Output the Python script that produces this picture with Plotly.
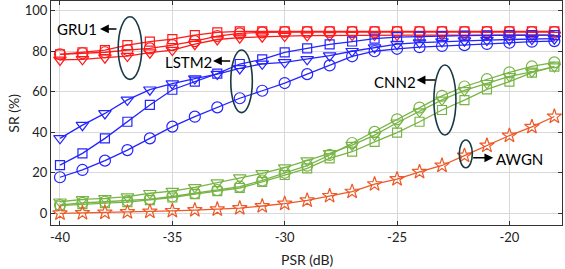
import plotly.graph_objects as go

psr = [-40, -39, -38, -37, -36, -35, -34, -33, -32, -31, -30, -29, -28, -27, -26, -25, -24, -23, -22, -21, -20, -19, -18]

gru1_sq = [78.5, 79.5, 80.6, 83.0, 84.7, 86.0, 88.0, 89.3, 89.8, 89.8, 89.8, 89.8, 89.8, 89.8, 89.8, 89.8, 89.8, 89.8, 89.8, 89.8, 89.8, 89.8, 89.8]
gru1_ci = [78.5, 79.0, 79.5, 80.6, 81.4, 83.0, 85.0, 87.5, 88.8, 89.3, 89.5, 89.5, 89.5, 89.5, 89.5, 89.5, 89.5, 89.5, 89.5, 89.5, 89.5, 89.5, 89.5]
gru1_tr = [75.7, 76.0, 76.8, 77.6, 79.3, 80.6, 83.5, 85.8, 86.7, 87.2, 87.5, 87.7, 87.8, 88.0, 88.0, 88.0, 88.0, 88.0, 88.0, 88.0, 88.0, 88.0, 88.0]

lstm2_sq = [23.8, 29.6, 37.0, 45.2, 53.5, 61.0, 65.0, 69.0, 73.7, 76.0, 79.4, 81.4, 83.4, 84.8, 86.2, 87.0, 87.3, 87.5, 87.7, 87.8, 88.0, 88.0, 88.0]
lstm2_tr = [37.0, 43.5, 49.3, 56.0, 61.0, 64.0, 66.5, 68.7, 71.5, 73.8, 74.5, 76.0, 77.8, 80.0, 81.8, 83.5, 84.3, 84.8, 85.2, 85.5, 85.8, 86.0, 86.2]
lstm2_ci = [17.8, 21.4, 26.0, 31.2, 37.0, 42.8, 47.7, 52.3, 56.8, 60.5, 64.3, 68.7, 73.0, 77.5, 80.0, 81.2, 82.0, 82.6, 83.0, 83.6, 84.2, 84.7, 85.0]

cnn2_ci = [4.1, 5.2, 5.7, 6.2, 7.0, 8.3, 10.0, 11.5, 13.2, 16.2, 20.0, 23.5, 28.8, 34.7, 40.2, 46.4, 52.2, 58.0, 62.6, 66.2, 69.6, 72.5, 74.5]
cnn2_tr = [5.7, 6.9, 7.4, 8.2, 9.9, 11.0, 12.8, 15.1, 17.6, 19.7, 22.6, 26.0, 29.6, 33.7, 38.6, 44.7, 50.2, 56.0, 60.7, 64.2, 67.6, 69.8, 72.4]
cnn2_sq = [3.8, 4.5, 5.0, 5.5, 6.5, 7.8, 9.5, 11.0, 12.5, 15.5, 18.9, 22.2, 27.1, 30.4, 35.3, 39.8, 45.2, 51.0, 55.9, 61.2, 65.0, 69.4, 72.4]

awgn = [0.0, 0.2, 0.4, 0.6, 0.9, 1.2, 1.6, 2.0, 2.6, 3.6, 4.8, 6.4, 8.6, 10.7, 14.4, 16.9, 20.5, 23.6, 28.5, 33.5, 38.4, 42.7, 47.8]

x_ticks = [-40, -35, -30, -25, -20]
y_ticks = [0, 20, 40, 60, 80, 100]

RED = "#ff1a1a"
BLUE = "#2424ff"
GREEN = "#78b445"
ORANGE = "#ec5a28"
RING = "#183a46"
FONT = "Lato"

series = [
    (gru1_sq, RED, "square-open", 9), (gru1_ci, RED, "circle-open", 11), (gru1_tr, RED, "triangle-down-open", 11),
    (lstm2_sq, BLUE, "square-open", 9), (lstm2_tr, BLUE, "triangle-down-open", 11), (lstm2_ci, BLUE, "circle-open", 11),
    (cnn2_ci, GREEN, "circle-open", 11), (cnn2_tr, GREEN, "triangle-down-open", 11), (cnn2_sq, GREEN, "square-open", 9),
    (awgn, ORANGE, "star-open", 11),
]

fig = go.Figure()
for ys, col, sym, sz in series:
    fig.add_trace(go.Scatter(
        x=psr, y=ys, mode="lines+markers",
        line=dict(color=col, width=1.3),
        marker=dict(symbol=sym, size=sz, color=col, line=dict(color=col, width=1.2)),
        showlegend=False, cliponaxis=True,
    ))

# Ellipses (data coords)
ellipses = [
    (-37.41, -36.36, 66.1, 97.0),
    (-32.40, -31.44, 49.7, 80.6),
    (-23.36, -22.38, 38.65, 73.2),
    (-22.23, -21.65, 22.5, 36.2),
]
for x0, x1, y0, y1 in ellipses:
    fig.add_shape(type="circle", xref="x", yref="y", x0=x0, x1=x1, y0=y0, y1=y1,
                  line=dict(color=RING, width=1.6))

# Arrows: (head_x, head_y, tail_x, tail_y)
arrows = [
    (-38.22, 91.0, -37.42, 91.0),
    (-33.19, 75.2, -32.36, 75.2),
    (-24.13, 65.8, -23.24, 65.8),
    (-20.72, 27.4, -21.68, 27.4),
]
for hx, hy, tx, ty in arrows:
    fig.add_annotation(x=hx, y=hy, ax=tx, ay=ty, xref="x", yref="y", axref="x", ayref="y",
                       text="", showarrow=True, arrowhead=2, arrowsize=1.1, arrowwidth=1.6,
                       arrowcolor="black")

labels = [("GRU1", -39.24, 91.2), ("LSTM2", -34.30, 74.8), ("CNN2", -25.09, 65.0), ("AWGN", -19.56, 26.7)]
for t, lx, ly in labels:
    fig.add_annotation(x=lx, y=ly, xref="x", yref="y", text=t, showarrow=False,
                       font=dict(family=FONT, size=15, color="black"))

# Axis titles as paper-anchored annotations
fig.add_annotation(x=0.5, y=-0.108, xref="paper", yref="paper", text="PSR (dB)", showarrow=False,
                   yanchor="top", font=dict(family=FONT, size=14, color="#222222"))
fig.add_annotation(x=-0.075, y=0.5, xref="paper", yref="paper", text="SR (%)", showarrow=False,
                   textangle=-90, xanchor="center", font=dict(family=FONT, size=14, color="#222222"))

axis_common = dict(
    showgrid=True, gridcolor="#d9d9d9", gridwidth=1,
    showline=True, linecolor="#333333", linewidth=1, mirror="ticks",
    ticks="inside", ticklen=4, tickcolor="#333333", tickwidth=1,
    zeroline=False, automargin=False,
    tickfont=dict(family=FONT, size=13, color="#222222"),
)

fig.update_xaxes(range=[-40.40, -17.66], tickvals=x_ticks, ticktext=[str(v) for v in x_ticks], **axis_common)
fig.update_yaxes(range=[-5.77, 104.8], tickvals=y_ticks, ticktext=[str(v) for v in y_ticks], **axis_common)

fig.update_layout(
    width=565, height=269,
    margin=dict(l=51, r=3, t=1, b=44),
    paper_bgcolor="white", plot_bgcolor="white",
    font=dict(family=FONT),
)

fig.write_html("out.html", config={"displayModeBar": False},
               post_script="document.body.style.margin='0';document.body.style.padding='0';")
